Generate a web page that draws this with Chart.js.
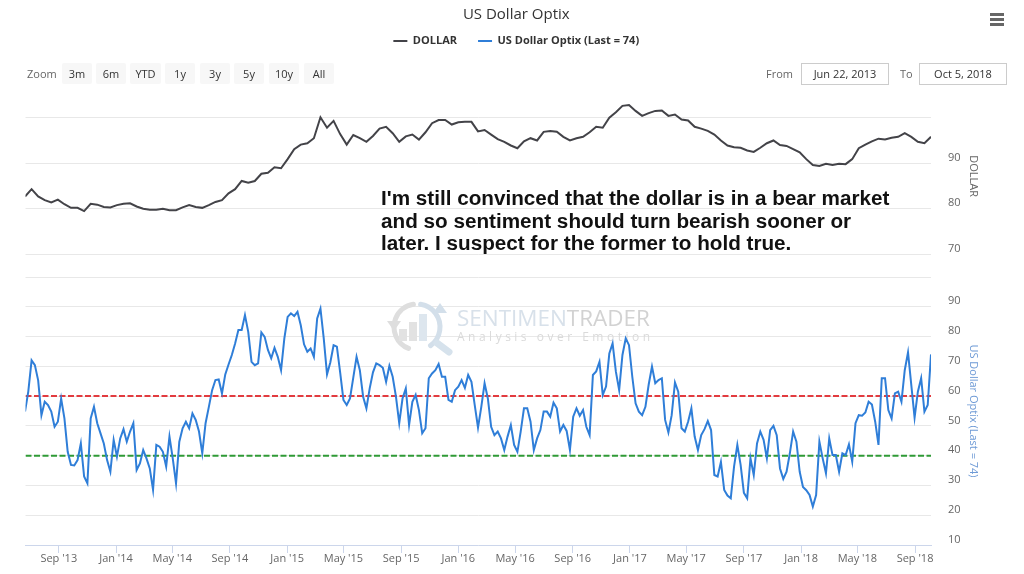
<!DOCTYPE html>
<html>
<head>
<meta charset="utf-8">
<title>US Dollar Optix</title>
<script src="https://cdn.jsdelivr.net/npm/chart.js@4.4.0/dist/chart.umd.min.js"></script>
<style>
  html, body { margin: 0; padding: 0; background: #fff; }
  #wrap { position: relative; width: 1024px; height: 574px; overflow: hidden; font-family: 'Open Sans', sans-serif; }
  #wrap canvas { position: absolute; left: 0; top: 0; }
  .btn { position: absolute; top: 63px; height: 21px; line-height: 21px; background: #f7f7f7; border-radius: 2px; text-align: center; font-size: 11px; color: #333; }
  .lbl { position: absolute; top: 63px; line-height: 21px; font-size: 11px; color: #666; }
  .inp { position: absolute; top: 63px; width: 86px; height: 20px; line-height: 20px; border: 1px solid #ccc; text-align: center; font-size: 11px; color: #333; }
  #note { position: absolute; left: 381px; top: 187px; font: bold 20.7px/22.6px 'Liberation Sans', Arial, sans-serif; color: #111; white-space: nowrap; }
  #menu { position: absolute; left: 990px; top: 13px; width: 14px; }
  #menu span { display: block; height: 2.5px; background: #666; margin-bottom: 2.5px; }
</style>
</head>
<body>
<div id="wrap">
  <canvas id="optixChart"></canvas>

  <div class="lbl" style="left:27px">Zoom</div>
  <div class="btn" style="left:62px;width:30px">3m</div>
  <div class="btn" style="left:96px;width:30px">6m</div>
  <div class="btn" style="left:130px;width:31px">YTD</div>
  <div class="btn" style="left:165px;width:30px">1y</div>
  <div class="btn" style="left:200px;width:30px">3y</div>
  <div class="btn" style="left:234px;width:30px">5y</div>
  <div class="btn" style="left:269px;width:30px">10y</div>
  <div class="btn" style="left:304px;width:30px">All</div>

  <div class="lbl" style="left:766px">From</div>
  <div class="inp" style="left:801px">Jun 22, 2013</div>
  <div class="lbl" style="left:900px">To</div>
  <div class="inp" style="left:919px">Oct 5, 2018</div>

  <div id="menu"><span></span><span></span><span></span></div>

  <div id="note">I'm still convinced that the dollar is in a bear market<br>and so sentiment should turn bearish sooner or<br>later. I suspect for the former to hold true.</div>
</div>

<script>
const startDate = '2013-06-22';
const endDate = '2018-10-05';

const xTickDates = ['2013-09-01', '2014-01-01', '2014-05-01', '2014-09-01', '2015-01-01', '2015-05-01',
  '2015-09-01', '2016-01-01', '2016-05-01', '2016-09-01', '2017-01-01', '2017-05-01',
  '2017-09-01', '2018-01-01', '2018-05-01', '2018-09-01'];
const xTickLabels = ["Sep '13", "Jan '14", "May '14", "Sep '14", "Jan '15", "May '15",
  "Sep '15", "Jan '16", "May '16", "Sep '16", "Jan '17", "May '17",
  "Sep '17", "Jan '18", "May '18", "Sep '18"];

const dollarTicks = [70, 80, 90, 100];
const optixTicks = [10, 20, 30, 40, 50, 60, 70, 80, 90, 100];

const optimismLevel = 60;
const pessimismLevel = 40;

// weekly readings, the last one on endDate
const optixValues = [
  54.8, 61.6, 72, 70.4, 65.3, 53.6, 58.1, 57, 54.8, 49.7,
  51.4, 59.2, 52.5, 41.3, 36.9, 36.7, 38.5, 44.1, 33, 30.7,
  52.5, 56.4, 50.9, 47.5, 44.1, 38.5, 34.6, 45.3, 39.7, 45.8,
  48.9, 44.7, 48.1, 50.9, 35.2, 37.4, 41.9, 39.1, 35.7, 28.5,
  43.6, 43, 41.3, 36.3, 46.4, 39.1, 30.7, 44.7, 49.2, 51.4,
  49.2, 54.2, 52, 48.1, 40.8, 50.9, 56.4, 62, 65.4, 65.6,
  60.9, 67.3, 70.6, 73.8, 77.7, 82.2, 82.2, 87.2, 81.6, 71.5,
  70.4, 71, 81.4, 79.9, 75.5, 72.7, 76.2, 73.2, 68.7, 79.4,
  86.6, 87.8, 86.9, 88.3, 83.8, 77.4, 74.9, 76, 73.2, 86.1,
  89.4, 79.4, 67.3, 71.3, 77.1, 76.6, 68, 58.7, 57, 59.2,
  66.2, 73.2, 68.7, 59.8, 55.9, 62.6, 68, 71, 70.4, 69.5,
  64.8, 70.2, 66.5, 59.8, 50.9, 59.2, 62.6, 50.3, 58.1, 60.4,
  55.3, 47.5, 49.2, 66, 67.6, 68.7, 70.8, 66.5, 66.5, 58.7,
  58.1, 62, 63.2, 65.4, 62.8, 67.1, 64.8, 57, 49.4, 56.4,
  64.3, 59.2, 49.7, 46.9, 48.1, 45.8, 41.9, 46.4, 50.3, 43.6,
  41.3, 48.1, 55.9, 55.9, 51.4, 41.9, 45.8, 48.6, 54.8, 54.8,
  53.1, 57.8, 55.9, 48.1, 50.3, 48.3, 41.9, 53.1, 55.9, 53.4,
  55.3, 49.7, 46.9, 67.1, 68.3, 71.5, 60.4, 63.2, 74.3, 77.7,
  68.2, 62, 73.8, 79.4, 77.1, 66.5, 57.6, 54.8, 53.6, 56.4,
  63.9, 69.9, 64.3, 65.4, 66, 52, 47.8, 53.6, 64.6, 61.5,
  49.2, 48.1, 51.4, 55.9, 46.4, 41.9, 46.9, 48.9, 51.6, 48.6,
  33.5, 33, 37.9, 28.5, 26.6, 25.7, 36.3, 43.6, 36.9, 27.5,
  25.7, 39.1, 33.5, 44.1, 48.1, 45.3, 39.1, 48.6, 50, 46.9,
  35.7, 32.2, 34.6, 40.8, 48.1, 44.7, 34.6, 29.5, 28.4, 26.8,
  22.9, 26.8, 44.7, 39.1, 34.1, 45.8, 40.2, 40.2, 34.6, 40.8,
  40.2, 43.8, 38, 50.9, 53.6, 53.4, 54.5, 58.1, 57.2, 51.4,
  43.6, 66, 66, 55.3, 52.5, 60.9, 61.5, 58.1, 68.7, 74.7,
  63.7, 52.8, 61.5, 66, 54.8, 57, 74
];

// fortnightly readings, the last one on endDate
const dollarValues = [
  82.7, 84.3, 82.7, 81.9, 81.4, 82, 81, 80.2, 80.2, 79.5,
  81.1, 80.9, 80.4, 80.3, 80.8, 81.1, 81.2, 80.5, 80, 79.8,
  79.8, 80, 79.7, 79.7, 80.3, 80.8, 80.4, 80.2, 80.8, 81.5,
  81.9, 83.4, 84.3, 86.1, 85.7, 86.1, 87.7, 87.9, 89.1, 88.9,
  90.9, 93.1, 94.1, 94.4, 95.5, 100.1, 97.8, 99.3, 96.4, 94.1,
  96.2, 95.5, 94.7, 96, 97.6, 98, 96.6, 94.7, 95.9, 96.3,
  95.2, 96.8, 98.8, 99.5, 99.5, 98.5, 99, 99.1, 99.1, 97,
  97.3, 96.3, 95.3, 94.7, 93.9, 93.3, 94.8, 95.5, 95, 96.9,
  97.1, 96.9, 95.8, 95, 95.5, 95.8, 96.8, 98, 97.8, 100,
  101.2, 102.6, 102.8, 101.5, 100.4, 101, 101.5, 101.6, 100.4, 100.7,
  99.6, 99.4, 98, 97.6, 97.1, 96.3, 95, 93.9, 93.5, 93.4,
  92.8, 92.5, 93.4, 94.4, 95, 94, 93.8, 93.1, 92.4, 90.9,
  89.6, 89.4, 89.9, 89.6, 89.9, 89.8, 90.9, 93.3, 94.1, 94.8,
  95.4, 95.2, 95.6, 95.8, 96.6, 95.8, 94.7, 94.4, 95.8
];

const dayOf = d => (Date.parse(d) - Date.parse(startDate)) / 864e5;
const endDay = dayOf(endDate);

// values counted back from the last date
function toPoints(values, stepDays) {
  const n = values.length;
  return values.map((v, i) => ({ x: endDay - stepDays * (n - 1 - i), y: v }));
}

const optixName = `US Dollar Optix (Last = ${optixValues[optixValues.length - 1]})`;
const axisFont = { family: 'Open Sans', size: 11 };

// faint sentimentrader mark behind the lines
const watermark = {
  id: 'watermark',
  beforeDatasetsDraw(chart) {
    const ctx = chart.ctx;
    ctx.save();
    ctx.lineCap = 'round';
    // ring
    ctx.lineWidth = 5;
    ctx.strokeStyle = '#dedede';
    ctx.beginPath();
    ctx.arc(417, 327, 23, Math.PI * 0.62, Math.PI * 1.45);
    ctx.stroke();
    ctx.strokeStyle = '#d3dfea';
    ctx.beginPath();
    ctx.arc(417, 327, 23, Math.PI * 1.55, Math.PI * 2.3);
    ctx.stroke();
    // arrow heads
    ctx.fillStyle = '#dedede';
    ctx.beginPath();
    ctx.moveTo(387, 321); ctx.lineTo(401, 321); ctx.lineTo(394, 331); ctx.closePath(); ctx.fill();
    ctx.fillStyle = '#d3dfea';
    ctx.beginPath();
    ctx.moveTo(433, 313); ctx.lineTo(447, 313); ctx.lineTo(440, 303); ctx.closePath(); ctx.fill();
    // bars
    ctx.fillStyle = '#e2e2e2';
    ctx.fillRect(399, 329, 8, 12);
    ctx.fillRect(409, 322, 8, 19);
    ctx.fillStyle = '#dde6ee';
    ctx.fillRect(419, 314, 8, 27);
    // handle
    ctx.lineWidth = 7;
    ctx.strokeStyle = '#d6e2ec';
    ctx.beginPath(); ctx.moveTo(437, 343); ctx.lineTo(449, 352); ctx.stroke();

    // name
    const left = 457, width = 193;
    ctx.font = '22px "Open Sans"';
    const w1 = ctx.measureText('SENTIMEN').width;
    const w2 = ctx.measureText('TRADER').width;
    const size = 22 * width / (w1 + w2);
    ctx.font = `${size}px "Open Sans"`;
    ctx.textBaseline = 'alphabetic';
    ctx.fillStyle = '#d8e1ea';
    ctx.fillText('SENTIMEN', left, 326);
    ctx.fillStyle = '#d2d2d2';
    ctx.fillText('TRADER', left + ctx.measureText('SENTIMEN').width, 326);

    // tagline, spread over the same width
    const tag = 'Analysis over Emotion';
    ctx.font = '12px "Open Sans"';
    ctx.fillStyle = '#dadada';
    const natural = ctx.measureText(tag).width;
    const gap = (width - natural) / (tag.length - 1);
    let x = left;
    for (const ch of tag) {
      ctx.fillText(ch, x, 341);
      x += ctx.measureText(ch).width + gap;
    }
    ctx.restore();
  }
};

const ctx = document.getElementById('optixChart').getContext('2d');
new Chart(ctx, {
  type: 'line',
  data: {
    datasets: [
      {
        label: 'DOLLAR',
        data: toPoints(dollarValues, 14),
        yAxisID: 'yDollar',
        borderColor: '#434348',
        backgroundColor: '#434348',
        borderWidth: 2,
        pointRadius: 0,
        tension: 0,
        order: 1
      },
      {
        label: optixName,
        data: toPoints(optixValues, 7),
        yAxisID: 'yOptix',
        borderColor: '#2f7ed8',
        backgroundColor: '#2f7ed8',
        borderWidth: 2,
        pointRadius: 0,
        tension: 0,
        order: 1
      },
      {
        label: 'optimism',
        data: [{ x: 0, y: optimismLevel }, { x: endDay, y: optimismLevel }],
        yAxisID: 'yOptix',
        borderColor: '#e23b3f',
        borderWidth: 2,
        borderDash: [6, 2.5],
        pointRadius: 0,
        order: 2
      },
      {
        label: 'pessimism',
        data: [{ x: 0, y: pessimismLevel }, { x: endDay, y: pessimismLevel }],
        yAxisID: 'yOptix',
        borderColor: '#2f9a36',
        borderWidth: 2,
        borderDash: [6, 2.5],
        pointRadius: 0,
        order: 2
      }
    ]
  },
  options: {
    responsive: true,
    maintainAspectRatio: false,
    animation: false,
    layout: { padding: { left: 25.5, right: 17, top: 0, bottom: 0 } },
    plugins: {
      title: {
        display: true,
        text: 'US Dollar Optix',
        color: '#333',
        font: { family: 'Open Sans', size: 15, weight: 'normal' },
        padding: { top: 6, bottom: -9.5 }
      },
      legend: {
        display: true,
        labels: {
          color: '#333',
          font: { family: 'Open Sans', size: 11, weight: 'bold' },
          usePointStyle: true,
          pointStyle: 'line',
          pointStyleWidth: 14,
          padding: 21,
          filter: item => item.datasetIndex < 2
        }
      },
      // room for the range selector row
      subtitle: {
        display: true,
        text: '',
        weight: 500,
        font: { size: 10 },
        padding: { top: 29.5, bottom: 0 }
      },
      tooltip: { enabled: false }
    },
    scales: {
      x: {
        type: 'linear',
        min: 0,
        max: endDay,
        afterBuildTicks: s => { s.ticks = xTickDates.map(d => ({ value: dayOf(d) })); },
        afterFit: s => { s.height = 29; },
        ticks: {
          autoSkip: false,
          maxRotation: 0,
          padding: -1,
          color: '#666',
          font: axisFont,
          callback: (v, i) => xTickLabels[i]
        },
        grid: { drawOnChartArea: false, drawTicks: true, tickLength: 8, color: '#ccd6eb' },
        border: { display: true, color: '#ccd6eb' }
      },
      yDollar: {
        type: 'linear',
        position: 'right',
        stack: 'panes',
        stackWeight: 156.3,
        min: 70,
        max: 104.33,
        afterBuildTicks: s => { s.ticks = dollarTicks.map(v => ({ value: v })); },
        afterFit: s => { s.width = 76; },
        ticks: {
          padding: 17,
          labelOffset: -5.5,
          color: '#666',
          font: axisFont,
          callback: v => (v === dollarTicks[dollarTicks.length - 1] ? '' : v)
        },
        grid: { color: '#e8e8e8', drawTicks: false },
        border: { display: false },
        title: {
          display: true,
          text: 'DOLLAR',
          color: '#666',
          font: axisFont,
          padding: { top: 27.7, bottom: 0 }
        }
      },
      ySpacer: {
        type: 'linear',
        position: 'right',
        stack: 'panes',
        stackWeight: 22.7,
        afterFit: s => { s.width = 76; },
        ticks: { display: false },
        grid: { display: false },
        border: { display: false }
      },
      yOptix: {
        type: 'linear',
        position: 'right',
        stack: 'panes',
        stackWeight: 268,
        min: 10,
        max: 100,
        afterBuildTicks: s => { s.ticks = optixTicks.map(v => ({ value: v })); },
        afterFit: s => { s.width = 76; },
        ticks: {
          padding: 17,
          labelOffset: -5.5,
          color: '#666',
          font: axisFont,
          callback: v => (v === optixTicks[optixTicks.length - 1] ? '' : v)
        },
        grid: { color: '#e8e8e8', drawTicks: false },
        border: { display: false },
        title: {
          display: true,
          text: optixName,
          color: '#6f9bd6',
          font: axisFont,
          padding: { top: 27.7, bottom: 0 }
        }
      }
    }
  },
  plugins: [watermark]
});
</script>
</body>
</html>
